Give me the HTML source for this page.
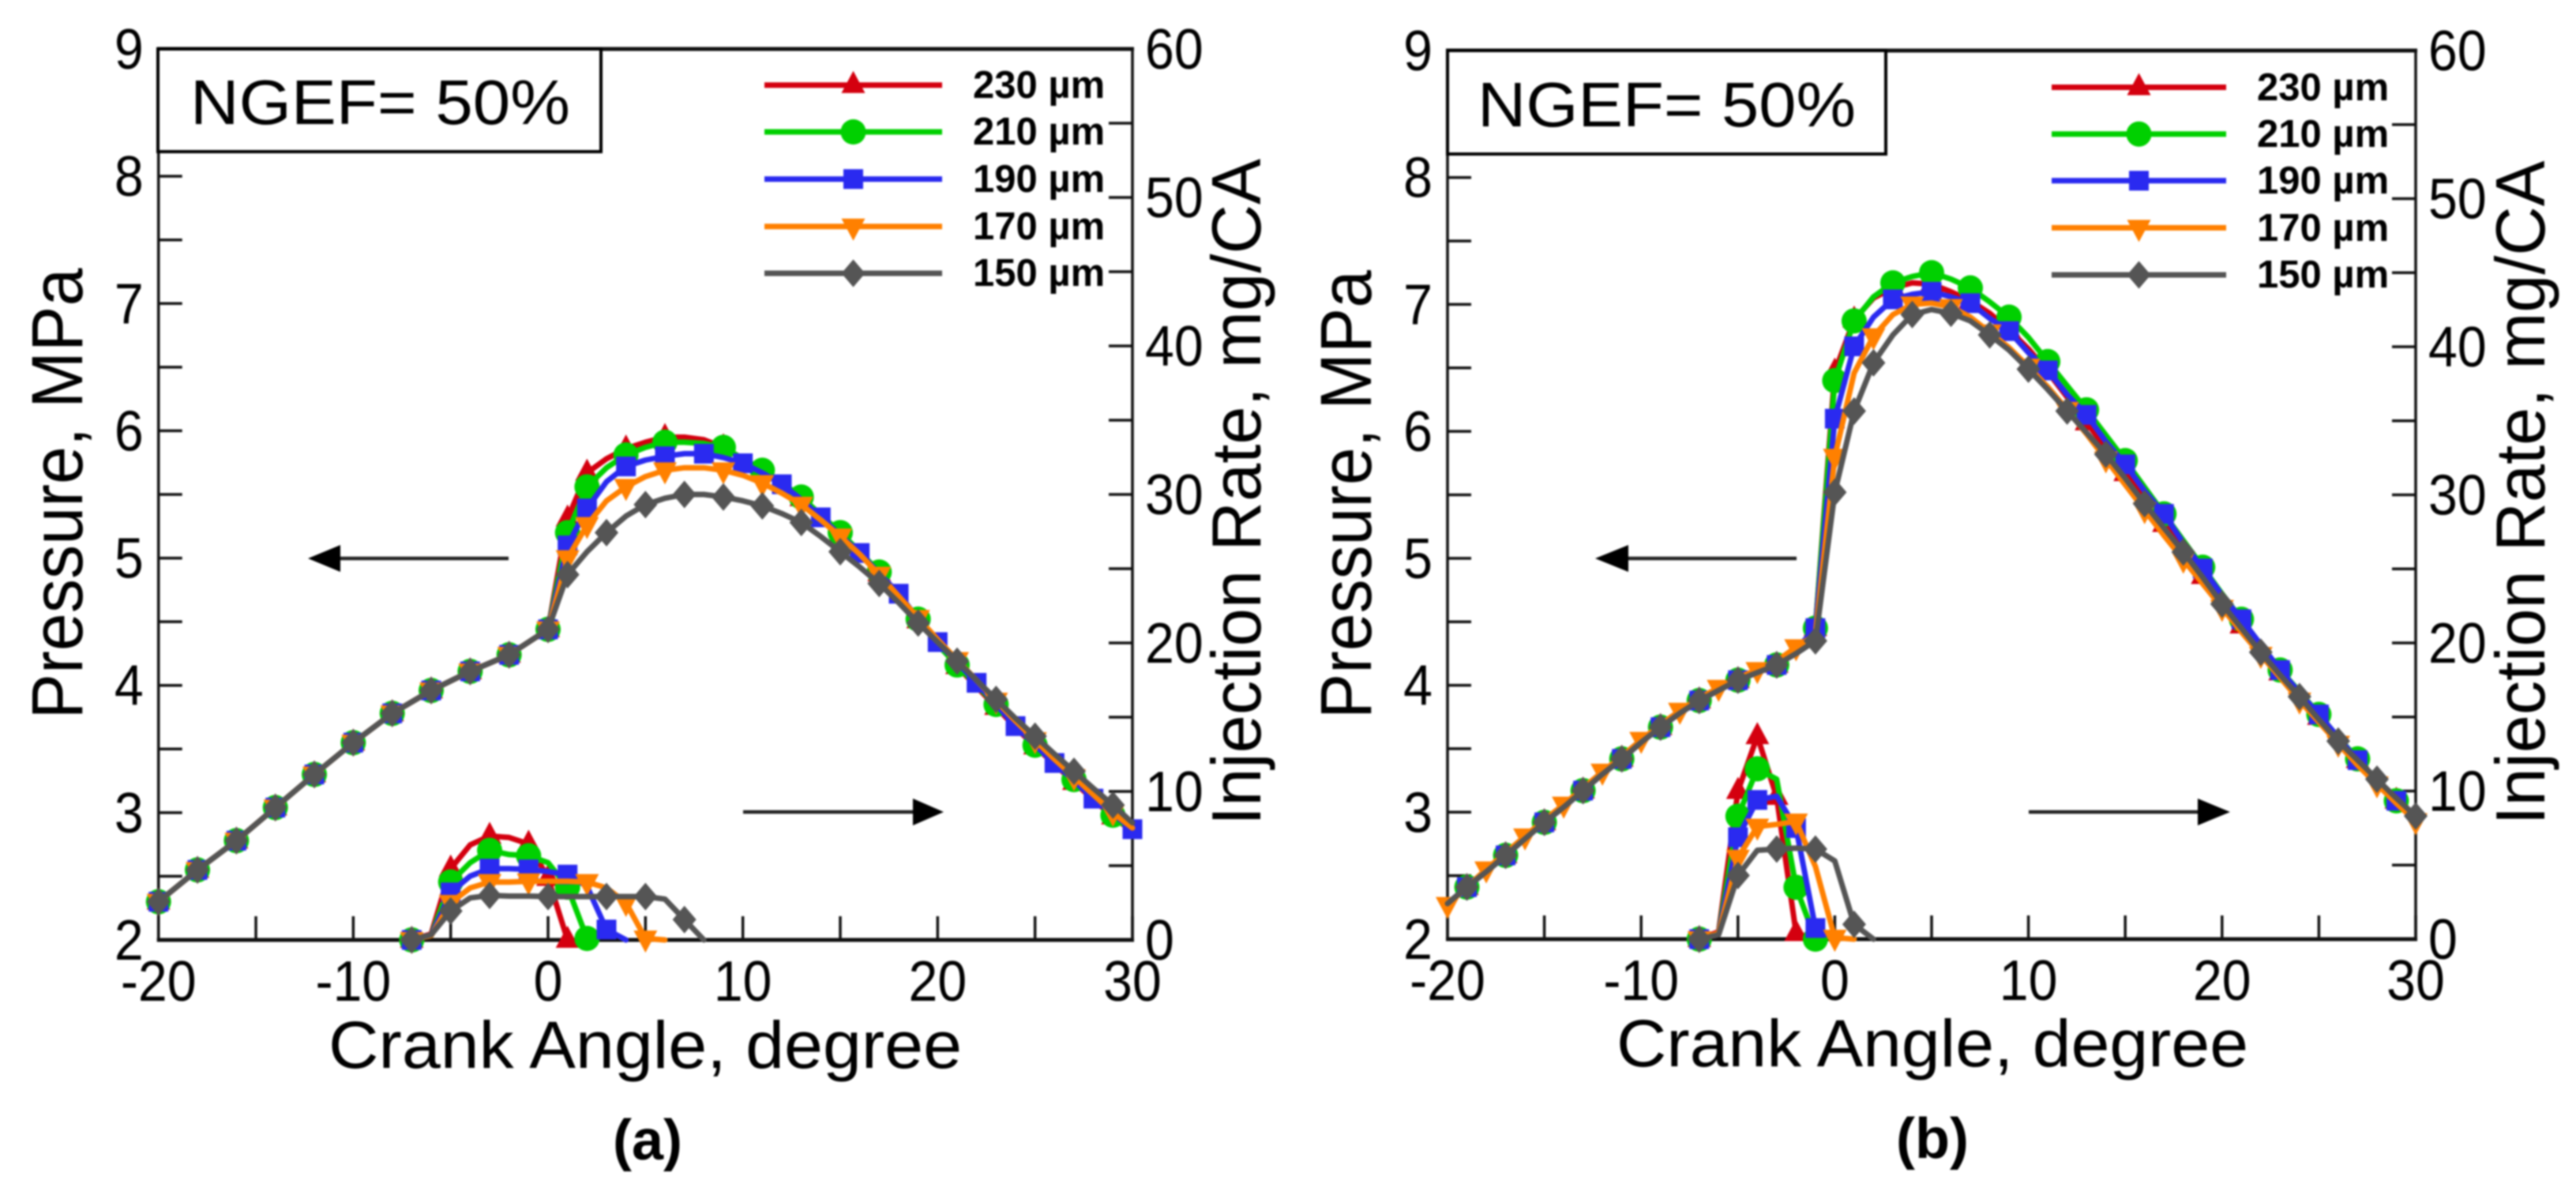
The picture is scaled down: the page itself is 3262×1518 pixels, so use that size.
<!DOCTYPE html>
<html lang="en">
<head>
<meta charset="utf-8">
<title>Pressure and injection rate versus crank angle</title>
<style>
html,body{margin:0;padding:0;background:#fff;}
svg{display:block;filter:blur(1px);}
text{font-family:"Liberation Sans",sans-serif;fill:#000;}
</style>
</head>
<body>
<svg id="chart" xmlns="http://www.w3.org/2000/svg" width="3262" height="1518" viewBox="0 0 3262 1518">
  <rect width="3262" height="1518" fill="#fff"/>

  <g id="panelA"></g>
  <g id="panelB"></g>

  <!-- Panel A text -->
  <g>
    <rect x="200" y="62" width="561" height="130" fill="#fff" stroke="#000" stroke-width="4"/>
    <text x="241" y="157" font-size="80" textLength="481" lengthAdjust="spacingAndGlyphs">NGEF= 50%</text>
    <text x="817" y="1352" text-anchor="middle" font-size="84" textLength="802" lengthAdjust="spacingAndGlyphs">Crank Angle, degree</text>
    <text transform="translate(104,625) rotate(-90)" text-anchor="middle" font-size="92" textLength="571" lengthAdjust="spacingAndGlyphs">Pressure, MPa</text>
    <text transform="translate(1596,623) rotate(-90)" text-anchor="middle" font-size="88" textLength="844" lengthAdjust="spacingAndGlyphs">Injection Rate, mg/CA</text>
    <text x="820" y="1468" text-anchor="middle" font-size="72" font-weight="bold">(a)</text>
    <text x="1232" y="124" font-size="49" font-weight="bold">230 µm</text>
    <text x="1232" y="183" font-size="49" font-weight="bold">210 µm</text>
    <text x="1232" y="243" font-size="49" font-weight="bold">190 µm</text>
    <text x="1232" y="303" font-size="49" font-weight="bold">170 µm</text>
    <text x="1232" y="362" font-size="49" font-weight="bold">150 µm</text>
  </g>

  <!-- Panel B text -->
  <g>
    <rect x="1833" y="64" width="555" height="131" fill="#fff" stroke="#000" stroke-width="4"/>
    <text x="1871" y="160" font-size="80" textLength="479" lengthAdjust="spacingAndGlyphs">NGEF= 50%</text>
    <text x="2447" y="1350" text-anchor="middle" font-size="84" textLength="800" lengthAdjust="spacingAndGlyphs">Crank Angle, degree</text>
    <text transform="translate(1736,626) rotate(-90)" text-anchor="middle" font-size="92" textLength="568" lengthAdjust="spacingAndGlyphs">Pressure, MPa</text>
    <text transform="translate(3222,624) rotate(-90)" text-anchor="middle" font-size="88" textLength="841" lengthAdjust="spacingAndGlyphs">Injection Rate, mg/CA</text>
    <text x="2447" y="1466" text-anchor="middle" font-size="72" font-weight="bold">(b)</text>
    <text x="2858" y="127" font-size="49" font-weight="bold">230 µm</text>
    <text x="2858" y="186" font-size="49" font-weight="bold">210 µm</text>
    <text x="2858" y="245" font-size="49" font-weight="bold">190 µm</text>
    <text x="2858" y="305" font-size="49" font-weight="bold">170 µm</text>
    <text x="2858" y="364" font-size="49" font-weight="bold">150 µm</text>
  </g>
</svg>

<script>
/* ---------- axis ticks and labels ---------- */
const xTicks = [-20,-15,-10,-5,0,5,10,15,20,25,30];
const xLabels = [-20,-10,0,10,20,30];
const pressureTicks = [2,2.5,3,3.5,4,4.5,5,5.5,6,6.5,7,7.5,8,8.5,9];
const pressureLabels = [2,3,4,5,6,7,8,9];
const rateTicks = [0,5,10,15,20,25,30,35,40,45,50,55,60];
const rateLabels = [0,10,20,30,40,50,60];

/* ---------- panel A : pressure (MPa) ---------- */
const pressureAnglesA = [-20,-18,-16,-14,-12,-10,-8,-6,-4,-2,0,1,2,3,4,5,6,7,8,9,10,11,12,13,14,15,16,17,18,19,20,21,22,23,24,25,26,27,28,29,30];
const pressureA230 = [2.30,2.55,2.78,3.04,3.30,3.55,3.78,3.96,4.11,4.24,4.44,5.31,5.67,5.78,5.86,5.91,5.95,5.95,5.93,5.87,5.78,5.68,5.59,5.47,5.34,5.19,5.04,4.88,4.70,4.51,4.33,4.15,3.99,3.83,3.67,3.52,3.38,3.24,3.10,2.97,2.85];
const pressureA210 = [2.30,2.55,2.78,3.04,3.30,3.55,3.78,3.96,4.11,4.24,4.44,5.20,5.56,5.71,5.81,5.87,5.91,5.91,5.90,5.87,5.78,5.69,5.59,5.48,5.34,5.20,5.05,4.89,4.70,4.52,4.32,4.16,4.00,3.85,3.69,3.53,3.39,3.26,3.11,2.98,2.85];
const pressureA190 = [2.30,2.55,2.78,3.04,3.30,3.55,3.78,3.96,4.11,4.24,4.44,5.10,5.39,5.60,5.72,5.77,5.80,5.82,5.82,5.79,5.745,5.67,5.58,5.46,5.32,5.18,5.04,4.88,4.72,4.52,4.34,4.18,4.02,3.85,3.68,3.53,3.39,3.25,3.11,2.99,2.87];
const pressureA170 = [2.30,2.55,2.78,3.04,3.30,3.55,3.78,3.96,4.11,4.24,4.44,5.00,5.26,5.45,5.56,5.64,5.69,5.71,5.71,5.69,5.65,5.59,5.51,5.42,5.30,5.17,5.03,4.87,4.70,4.53,4.36,4.20,4.04,3.88,3.72,3.57,3.42,3.28,3.14,3.00,2.88];
const pressureA150 = [2.30,2.55,2.78,3.04,3.30,3.55,3.78,3.96,4.11,4.24,4.44,4.87,5.05,5.20,5.33,5.42,5.47,5.50,5.50,5.48,5.45,5.41,5.35,5.28,5.17,5.05,4.93,4.80,4.65,4.49,4.34,4.19,4.04,3.89,3.74,3.60,3.46,3.325,3.19,3.06,2.92];
const pressureMarkersA230 = [-20,-18,-16,-14,-12,-10,-8,-6,-4,-2,0,1,2,4,6,9,11,13,15,17,19,21,23,25,27,29];
const pressureMarkersA210 = [-20,-18,-16,-14,-12,-10,-8,-6,-4,-2,0,1,2,4,6,9,11,13,15,17,19,21,23,25,27,29];
const pressureMarkersA190 = [-20,-18,-16,-14,-12,-10,-8,-6,-4,-2,0,1,2,4,6,8,10,12,14,16,18,20,22,24,26,28,30];
const pressureMarkersA170 = [-20,-18,-16,-14,-12,-10,-8,-6,-4,-2,0,1,2,4,6,9,11,13,15,17,19,21,23,25,27,29];
const pressureMarkersA150 = [-20,-18,-16,-14,-12,-10,-8,-6,-4,-2,0,1,3,5,7,9,11,13,15,17,19,21,23,25,27,29];

/* ---------- panel A : injection rate (mg/CA) ---------- */
const rateAnglesA = [-7,-6,-5,-4,-3,-2,-1,0,1,2,3,4,5,6,7,8];
const rateA230 = [0,0.4,4.8,6.4,7.0,6.9,6.47,4.17,0];
const rateA210 = [0,0.3,3.9,5.2,6.03,5.75,5.67,5.2,3.55,0.1];
const rateA190 = [0,0.3,3.2,4.3,4.8,4.8,4.75,4.6,4.4,3.6,0.7,0];
const rateA170 = [0,0.3,2.5,3.5,3.9,3.9,3.95,3.95,3.95,3.9,3.5,2.5,0.1,0];
const rateA150 = [0,0.35,1.95,2.83,3.0,2.95,2.95,2.92,2.92,2.92,2.92,2.92,2.92,2.75,1.37,0];
const rateMarkersA230 = [-7,-5,-3,-1,0,1];
const rateMarkersA210 = [-7,-5,-3,-1,1,2];
const rateMarkersA190 = [-7,-5,-3,-1,1,3];
const rateMarkersA170 = [-7,-5,-3,-1,2,4,5];
const rateMarkersA150 = [-7,-5,-3,0,3,5,7];

/* ---------- panel B : pressure (MPa) ---------- */
const pressureAnglesB = [-20,-19,-18,-17,-16,-15,-14,-13,-12,-11,-10,-9,-8,-7,-6,-5,-4,-3,-2,-1,0,1,2,3,4,5,6,7,8,9,10,11,12,13,14,15,16,17,18,19,20,21,22,23,24,25,26,27,28,29,30];
const pressureB230 = [2.28,2.41,2.53,2.66,2.79,2.92,3.04,3.17,3.30,3.42,3.55,3.67,3.78,3.88,3.96,4.04,4.10,4.16,4.28,4.45,6.47,6.88,7.05,7.13,7.17,7.16,7.10,7.03,6.93,6.80,6.65,6.47,6.27,6.07,5.87,5.67,5.47,5.27,5.06,4.86,4.66,4.47,4.28,4.10,3.92,3.75,3.58,3.41,3.25,3.09,2.94];
const pressureB210 = [2.28,2.41,2.53,2.66,2.79,2.92,3.04,3.17,3.30,3.42,3.55,3.67,3.78,3.88,3.96,4.04,4.10,4.16,4.28,4.45,6.40,6.87,7.06,7.17,7.22,7.25,7.20,7.13,7.02,6.90,6.74,6.55,6.36,6.17,5.97,5.77,5.56,5.35,5.14,4.93,4.72,4.52,4.32,4.12,3.95,3.77,3.59,3.42,3.25,3.09,2.94];
const pressureB190 = [2.28,2.41,2.53,2.66,2.79,2.92,3.04,3.17,3.30,3.42,3.55,3.67,3.78,3.88,3.96,4.04,4.10,4.16,4.28,4.45,6.10,6.67,6.90,7.04,7.08,7.10,7.06,7.01,6.89,6.79,6.62,6.48,6.29,6.13,5.92,5.74,5.53,5.35,5.12,4.92,4.71,4.52,4.32,4.12,3.94,3.77,3.59,3.41,3.25,3.09,2.94];
const pressureB170 = [2.27,2.41,2.55,2.68,2.81,2.94,3.06,3.19,3.32,3.44,3.57,3.69,3.80,3.90,3.98,4.06,4.12,4.19,4.30,4.40,5.80,6.46,6.75,6.92,7.00,7.01,6.98,6.90,6.78,6.66,6.51,6.35,6.17,5.98,5.78,5.58,5.38,5.18,4.99,4.80,4.61,4.42,4.24,4.06,3.88,3.71,3.54,3.37,3.22,3.07,2.93];
const pressureB150 = [2.28,2.41,2.53,2.66,2.79,2.92,3.04,3.17,3.30,3.42,3.55,3.67,3.78,3.88,3.96,4.04,4.10,4.16,4.25,4.35,5.52,6.16,6.54,6.76,6.92,6.96,6.93,6.87,6.76,6.64,6.49,6.33,6.16,5.99,5.82,5.63,5.43,5.24,5.05,4.85,4.64,4.45,4.26,4.08,3.91,3.73,3.56,3.41,3.26,3.11,2.97];
const pressureMarkersB230 = [-19,-17,-15,-13,-11,-9,-7,-5,-3,-1,0,1,3,5,7,9,11,13,15,17,19,21,23,25,27,29];
const pressureMarkersB210 = [-19,-17,-15,-13,-11,-9,-7,-5,-3,-1,0,1,3,5,7,9,11,13,15,17,19,21,23,25,27,29];
const pressureMarkersB190 = [-19,-17,-15,-13,-11,-9,-7,-5,-3,-1,0,1,3,5,7,9,11,13,15,17,19,21,23,25,27,29];
const pressureMarkersB170 = [-20,-18,-16,-14,-12,-10,-8,-6,-4,-2,0,2,4,6,8,10,12,14,16,18,20,22,24,26,28,30];
const pressureMarkersB150 = [-19,-17,-15,-13,-11,-9,-7,-5,-3,-1,0,1,2,4,6,8,10,12,14,16,18,20,22,24,26,28,30];

/* ---------- panel B : injection rate (mg/CA) ---------- */
const rateAnglesB = [-7,-6,-5,-4,-3,-2,-1,0,1,2];
const rateB230 = [0,0.5,10,13.7,9.6,0.4,0];
const rateB210 = [0,0.4,8.3,11.5,10.8,3.5,0];
const rateB190 = [0,0.4,6.88,9.4,9.65,7.5,0.75,0];
const rateB170 = [0,0.4,5.5,7.6,7.75,7.95,4.9,0.1,0];
const rateB150 = [0,0.3,4.3,6.0,6.08,6.15,6.08,5.28,1.0,0];
const rateMarkersB230 = [-7,-5,-4,-3,-2];
const rateMarkersB210 = [-7,-5,-4,-2,-1];
const rateMarkersB190 = [-7,-5,-4,-2,-1];
const rateMarkersB170 = [-7,-5,-4,-2,0];
const rateMarkersB150 = [-7,-5,-3,-1,1];

const SVGNS = 'http://www.w3.org/2000/svg';
const COLORS = {230:'#d4000f',210:'#00d000',190:'#2a2af0',170:'#ff8000',150:'#555555'};
const SHAPES = {230:'up',210:'circle',190:'square',170:'down',150:'diamond'};
const SIZES = [230,210,190,170,150];

function make(tag, attrs, parent){
  const e = document.createElementNS(SVGNS, tag);
  for (const k in attrs) e.setAttribute(k, attrs[k]);
  parent.appendChild(e);
  return e;
}

function drawMarker(parent, size, cx, cy, label){
  const color = COLORS[size];
  const shape = SHAPES[size];
  let m;
  if (shape === 'circle') {
    m = make('circle', {cx:cx, cy:cy, r:16, fill:color}, parent);
  } else if (shape === 'square') {
    m = make('rect', {x:cx-12.5, y:cy-12.5, width:25, height:25, fill:color}, parent);
  } else {
    const pts = shape === 'up' ? [[0,-18],[15,10],[-15,10]] :
                shape === 'down' ? [[-15,-10],[15,-10],[0,18]] :
                [[0,-17.5],[15,0],[0,17.5],[-15,0]];
    m = make('polygon', {points: pts.map(p => (cx+p[0])+','+(cy+p[1])).join(' '), fill:color}, parent);
  }
  
  
}

function drawCurve(parent, size, angles, values, markerAngles, xf, yf, label){
  const group = make('g', {}, parent);
  
  
  const pts = values.map((v,i) => xf(angles[i]).toFixed(1)+','+yf(v).toFixed(1));
  const line = make('polyline', {points:pts.join(' '), fill:'none', stroke:COLORS[size], 'stroke-width':7, 'stroke-linejoin':'round', 'stroke-linecap':'round'}, group);
  
  
  markerAngles.forEach(a => {
    const i = angles.indexOf(a);
    if (i >= 0 && i < values.length) drawMarker(group, size, xf(a), yf(values[i]), label+'-marker');
  });
}

function drawArrow(parent, x1, tip, base, y, label){
  const g = make('g', {}, parent);
  
  
  make('line', {x1:x1, y1:y, x2:base, y2:y, stroke:'#222', 'stroke-width':4.5}, g);
  make('polygon', {points: tip+','+y+' '+base+','+(y-17)+' '+base+','+(y+17), fill:'#000'}, g);
}

function drawPanel(panel){
  const g = document.getElementById(panel.id);
  const s = panel.suffix;
  const xf = d => panel.left + (d+20)/50*(panel.right-panel.left);
  const yP = v => panel.bottom - (v-2)/7*(panel.bottom-panel.top);
  const yR = v => panel.bottom - v/60*(panel.bottom-panel.top);

  /* frame */
  const frame = make('g', {stroke:'#111'}, g);
  
  
  make('line', {x1:panel.left-2, y1:panel.top, x2:panel.right+2, y2:panel.top, 'stroke-width':5}, frame);
  make('line', {x1:panel.left-2, y1:panel.bottom, x2:panel.right+2, y2:panel.bottom, 'stroke-width':5}, frame);
  make('line', {x1:panel.left, y1:panel.top, x2:panel.left, y2:panel.bottom, 'stroke-width':3.5}, frame);
  make('line', {x1:panel.right, y1:panel.top, x2:panel.right, y2:panel.bottom, 'stroke-width':3.5}, frame);

  /* ticks */
  xTicks.forEach(t => {
    const l = make('line', {x1:xf(t), y1:panel.bottom, x2:xf(t), y2:panel.bottom-30, stroke:'#111', 'stroke-width':3.5}, g);
    
    
  });
  pressureTicks.forEach(t => {
    const l = make('line', {x1:panel.left, y1:yP(t), x2:panel.left+30, y2:yP(t), stroke:'#111', 'stroke-width':3.5}, g);
    
    
  });
  rateTicks.forEach(t => {
    const l = make('line', {x1:panel.right, y1:yR(t), x2:panel.right-30, y2:yR(t), stroke:'#111', 'stroke-width':3.5}, g);
    
    
  });

  /* tick labels */
  xLabels.forEach(t => {
    const e = make('text', {transform:'translate('+xf(t)+','+(panel.bottom+77)+') scale(.92,1)', 'text-anchor':'middle', 'font-size':72}, g);
    e.textContent = t;
    
    
  });
  pressureLabels.forEach(t => {
    const e = make('text', {transform:'translate('+(panel.left-19)+','+(yP(t)+25)+') scale(.92,1)', 'text-anchor':'end', 'font-size':72}, g);
    e.textContent = t;
    
    
  });
  rateLabels.forEach(t => {
    const e = make('text', {transform:'translate('+(panel.right+16)+','+(yR(t)+25)+') scale(.92,1)', 'text-anchor':'start', 'font-size':72}, g);
    e.textContent = t;
    
    
  });

  /* series */
  panel.series.forEach(ser => {
    drawCurve(g, ser.size, panel.pressureAngles, ser.pressure, ser.pressureMarkers, xf, yP, 'pressure-curve-'+ser.size+'-'+s);
  });
  panel.series.forEach(ser => {
    drawCurve(g, ser.size, panel.rateAngles, ser.rate, ser.rateMarkers, xf, yR, 'rate-curve-'+ser.size+'-'+s);
  });

  /* arrows */
  drawArrow(g, panel.arrowL[0], panel.arrowL[1], panel.arrowL[2], 707, 'pressure-arrow-'+s);
  drawArrow(g, panel.arrowR[0], panel.arrowR[1], panel.arrowR[2], 1028, 'rate-arrow-'+s);

  /* legend */
  SIZES.forEach((size,i) => {
    const y = panel.legendY[i];
    const l = make('line', {x1:panel.legendX[0], y1:y, x2:panel.legendX[1], y2:y, stroke:COLORS[size], 'stroke-width':7}, g);
    
    
    drawMarker(g, size, (panel.legendX[0]+panel.legendX[1])/2, y, 'legend-marker-'+size+'-'+s);
  });
}

drawPanel({
  id:'panelA', suffix:'a', left:200.7, right:1434, top:62, bottom:1190,
  pressureAngles:pressureAnglesA, rateAngles:rateAnglesA,
  arrowL:[644,390,431], arrowR:[941,1195,1156],
  legendX:[968,1193], legendY:[107.7,167,226.7,286.7,346],
  series:[
    {size:230, pressure:pressureA230, pressureMarkers:pressureMarkersA230, rate:rateA230, rateMarkers:rateMarkersA230},
    {size:210, pressure:pressureA210, pressureMarkers:pressureMarkersA210, rate:rateA210, rateMarkers:rateMarkersA210},
    {size:190, pressure:pressureA190, pressureMarkers:pressureMarkersA190, rate:rateA190, rateMarkers:rateMarkersA190},
    {size:170, pressure:pressureA170, pressureMarkers:pressureMarkersA170, rate:rateA170, rateMarkers:rateMarkersA170},
    {size:150, pressure:pressureA150, pressureMarkers:pressureMarkersA150, rate:rateA150, rateMarkers:rateMarkersA150}
  ]
});
drawPanel({
  id:'panelB', suffix:'b', left:1833, right:3059, top:64, bottom:1189,
  pressureAngles:pressureAnglesB, rateAngles:rateAnglesB,
  arrowL:[2275,2020,2062], arrowR:[2569,2824,2783],
  legendX:[2598,2819], legendY:[110.5,169.7,228.8,288.4,348],
  series:[
    {size:230, pressure:pressureB230, pressureMarkers:pressureMarkersB230, rate:rateB230, rateMarkers:rateMarkersB230},
    {size:210, pressure:pressureB210, pressureMarkers:pressureMarkersB210, rate:rateB210, rateMarkers:rateMarkersB210},
    {size:190, pressure:pressureB190, pressureMarkers:pressureMarkersB190, rate:rateB190, rateMarkers:rateMarkersB190},
    {size:170, pressure:pressureB170, pressureMarkers:pressureMarkersB170, rate:rateB170, rateMarkers:rateMarkersB170},
    {size:150, pressure:pressureB150, pressureMarkers:pressureMarkersB150, rate:rateB150, rateMarkers:rateMarkersB150}
  ]
});
</script>
</body>
</html>
